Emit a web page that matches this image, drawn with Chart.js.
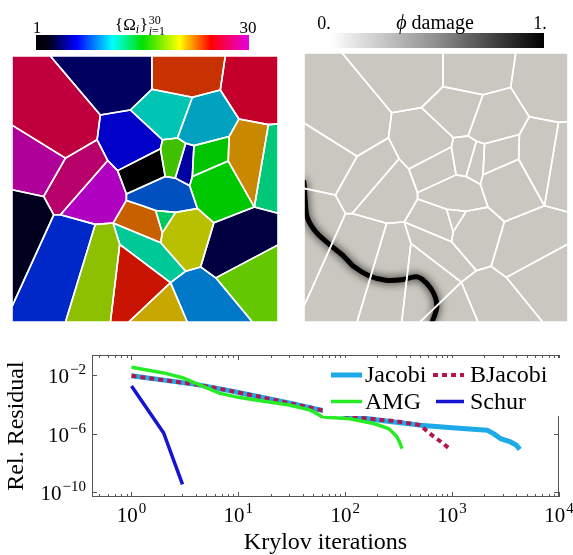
<!DOCTYPE html>
<html>
<head>
<meta charset="utf-8">
<script src="https://cdn.jsdelivr.net/npm/chart.js@4.4.1/dist/chart.umd.min.js"></script>
<style>
  html, body { margin: 0; padding: 0; background: #fff; }
  body { width: 573px; height: 555px; position: relative; overflow: hidden; }
  canvas { position: absolute; }
  #left { left: 0; top: 0; }
  #right { left: 290px; top: 0; }
  #plot { left: 0; top: 340px; }
</style>
</head>
<body>
<canvas id="left" width="290" height="330"></canvas>
<canvas id="right" width="283" height="330"></canvas>
<canvas id="plot" width="573" height="215"></canvas>
<script>
// Convergence curves (Krylov iteration, relative residual)
const jacobiIter = [1, 2, 4, 8, 16, 32, 64, 100, 138, 250, 500, 1000, 2130, 2440, 2830, 3520, 4000, 4300];
const jacobiRes = [8.9e-3, 4.5e-3, 2.3e-3, 9e-4, 3.2e-4, 1.1e-4, 3.6e-5, 2e-5, 1.2e-5, 7e-6, 3.8e-6, 2.5e-6, 1.7e-6, 1e-6, 4.6e-7, 2.7e-7, 1.6e-7, 8.5e-8];
const bjacobiIter = [1, 2, 4, 8, 16, 32, 64, 100, 138, 300, 500, 620, 800, 960];
const bjacobiRes = [8.9e-3, 4.5e-3, 2.3e-3, 9e-4, 3.2e-4, 1.1e-4, 3.6e-5, 2e-5, 1.2e-5, 7e-6, 3.8e-6, 1e-6, 2.5e-7, 8.5e-8];
const amgIter = [1, 2, 3, 4, 6.75, 10, 15, 30, 47, 55, 60, 67, 110, 184, 255, 300, 320, 340];
const amgRes = [3.4e-2, 1.4e-2, 6.6e-3, 2.7e-3, 5.6e-4, 3e-4, 1.9e-4, 9e-5, 4e-5, 2.2e-5, 1.5e-5, 1.3e-5, 1.05e-5, 4.9e-6, 2.2e-6, 7e-7, 3e-7, 9.5e-8];
const schurIter = [1, 2, 3];
const schurRes = [1.8e-3, 1.1e-6, 3.4e-10];

const seriesNames = ["Jacobi", "BJacobi", "AMG", "Schur"];
const xTickValues = [1, 10, 100, 1000, 10000];
const xTickExponents = ["0", "1", "2", "3", "4"];
const yTickValues = [1e-2, 1e-6, 1e-10];
const yTickExponents = ["−2", "−6", "−10"];

// Voronoi subdomains (panel coordinates 0..100, y downwards)
const cellColors = [
  "#c0003e", "#000060", "#c83200", "#c4002a", "#00c4b4", "#00a2c0",
  "#0000c8", "#40c000", "#0000a0", "#00c400", "#c88800", "#00c878",
  "#b0009a", "#b8006a", "#00001e", "#b000c0", "#000000", "#0050c0",
  "#0028c8", "#8cc000", "#00c896", "#c81400", "#c8a800", "#0078c8",
  "#64c800", "#000040", "#b8c000", "#00c860", "#c86000", "#00c800"
];
const cellCorners = [
  [[0,0],[14.4,0],[33.2,22.2],[32,31.5],[20.1,38.4],[0,26]],
  [[14.4,0],[52.6,0],[52.6,12.5],[44.5,20.3],[33.2,22.2]],
  [[52.6,0],[80.2,0],[78.3,12.8],[67.8,15.5],[52.6,12.5]],
  [[80.2,0],[100,0],[100,25.5],[96.4,25.8],[85.3,23.7],[78.3,12.8]],
  [[44.5,20.3],[52.6,12.5],[67.8,15.5],[62.2,30.8],[56.6,31.5]],
  [[67.8,15.5],[78.3,12.8],[85.3,23.7],[81.6,30.3],[68.4,33.7],[65.3,32.8],[62.2,30.8]],
  [[33.2,22.2],[44.5,20.3],[56.6,31.5],[55.8,34.9],[39.7,43.1],[36,39.3],[32,31.5]],
  [[56.6,31.5],[62.2,30.8],[65.3,32.8],[61.4,45.9],[57.6,45.3],[55.8,34.9]],
  [[65.3,32.8],[68.4,33.7],[67.8,45.3],[66.8,48.8],[61.4,45.9]],
  [[68.4,33.7],[81.6,30.3],[81.3,39.5],[67.8,45.3]],
  [[85.3,23.7],[96.4,25.8],[91.1,56.8],[81.3,39.5],[81.6,30.3]],
  [[96.4,25.8],[100,25.5],[100,59.1],[91.1,56.8]],
  [[0,26],[20.1,38.4],[11.9,52.8],[0,50.3]],
  [[20.1,38.4],[32,31.5],[36,39.3],[18.2,59.7],[15.7,59.7],[11.9,52.8]],
  [[0,50.3],[11.9,52.8],[15.7,59.7],[0,94.1]],
  [[36,39.3],[39.7,43.1],[43,51.9],[43,54.3],[38,62.8],[31.3,63.3],[18.2,59.7]],
  [[39.7,43.1],[55.8,34.9],[57.6,45.3],[43,51.9]],
  [[43,51.9],[57.6,45.3],[61.4,45.9],[66.8,48.8],[69.7,57.3],[61.5,58.8],[54,58.1],[49,56.3],[43,54.3]],
  [[15.7,59.7],[18.2,59.7],[31.3,63.3],[20.1,100],[0,100],[0,94.1]],
  [[31.3,63.3],[38,62.8],[40.5,70.8],[37,100],[20.1,100]],
  [[38,62.8],[55.9,70.2],[65.3,80.9],[59.6,85.2],[40.5,70.8]],
  [[40.5,70.8],[59.6,85.2],[43.9,100],[37,100]],
  [[59.6,85.2],[65.9,100],[43.9,100]],
  [[59.6,85.2],[65.3,80.9],[70.9,79.3],[76.6,83.4],[90.4,100],[65.9,100]],
  [[76.6,83.4],[100,71],[100,100],[90.4,100]],
  [[70.9,79.3],[75.9,62.7],[91.1,56.8],[100,59.1],[100,71],[76.6,83.4]],
  [[61.5,58.8],[69.7,57.3],[75.9,62.7],[70.9,79.3],[65.3,80.9],[55.9,70.2],[56.5,66.5]],
  [[54,58.1],[61.5,58.8],[56.5,66.5]],
  [[43,54.3],[49,56.3],[54,58.1],[56.5,66.5],[55.9,70.2],[38,62.8]],
  [[67.8,45.3],[81.3,39.5],[91.1,56.8],[75.9,62.7],[69.7,57.3],[66.8,48.8]]
];
const crackPath = [[0,48],[0.5,55],[1.2,61],[4.5,66.5],[10,71.5],[15,75.5],[19,79.5],[25,83],[31,84.5],[37,84.3],[42.5,83.2],[45,84.3],[48,87.5],[49.8,91],[50.3,94.5],[49.5,97.5],[48.5,100]];
const damageGrey = "#c9c7bf";
const rainbowStops = [[0,"#000000"],[0.06,"#000018"],[0.19,"#0000ff"],[0.36,"#00ffff"],[0.5,"#00e000"],[0.675,"#ffff00"],[0.82,"#ff0000"],[1,"#e600e6"]];

const SERIF = '"Liberation Serif", "DejaVu Serif", serif';
const toPoints = (xs, ys) => xs.map((x, i) => ({ x, y: ys[i] }));
const toXY = (pts) => pts.map(([x, y]) => ({ x, y }));

// Un panneau Voronoi : un dataset "shape" par sous-domaine
function drawPanel(canvas, fills, padding, extraDatasets, plugins) {
  const datasets = cellCorners.map((pts, i) => ({
    data: toXY(pts.concat([pts[0]])),
    backgroundColor: fills[i],
    borderColor: "#ffffff",
    borderWidth: 1.6,
    borderJoinStyle: "round",
    fill: "shape",
    pointRadius: 0,
    tension: 0,
    clip: 0,
    order: 0,
  }));
  return new Chart(canvas, {
    type: "line",
    data: { datasets: datasets.concat(extraDatasets) },
    options: {
      responsive: false,
      animation: false,
      events: [],
      layout: { padding },
      scales: {
        x: { type: "linear", min: 0, max: 100, display: false },
        y: { type: "linear", min: 0, max: 100, reverse: true, display: false },
      },
      plugins: {
        legend: { display: false },
        tooltip: { enabled: false },
        filler: { drawTime: "beforeDatasetsDraw" },
      },
    },
    plugins,
  });
}

// Left panel: colour bar {Omega_i}
const leftBar = {
  id: "leftBar",
  afterDraw(chart) {
    const ctx = chart.ctx;
    ctx.save();
    const g = ctx.createLinearGradient(36, 0, 249, 0);
    rainbowStops.forEach(([p, c]) => g.addColorStop(p, c));
    ctx.fillStyle = g;
    ctx.fillRect(36, 35, 213, 15);
    ctx.fillStyle = "#000";
    ctx.textAlign = "center";
    ctx.textBaseline = "alphabetic";
    ctx.font = "17px " + SERIF;
    ctx.fillText("1", 37, 33);
    ctx.fillText("30", 248, 33);
    ctx.textAlign = "left";
    let x = 115;
    ctx.font = "17px " + SERIF;
    ctx.fillText("{Ω", x, 30);
    x += ctx.measureText("{Ω").width;
    ctx.font = "italic 12px " + SERIF;
    ctx.fillText("i", x, 33);
    x += ctx.measureText("i").width + 0.5;
    ctx.font = "17px " + SERIF;
    ctx.fillText("}", x, 30);
    x += ctx.measureText("}").width + 1;
    ctx.font = "12px " + SERIF;
    ctx.fillText("30", x, 23.5);
    ctx.font = "italic 12px " + SERIF;
    ctx.fillText("i", x, 34.5);
    const xi = x + ctx.measureText("i").width;
    ctx.font = "12px " + SERIF;
    ctx.fillText("=1", xi, 34.5);
    ctx.restore();
  },
};

// Right panel: grey bar "phi damage"
const rightBar = {
  id: "rightBar",
  afterDraw(chart) {
    const ctx = chart.ctx;
    ctx.save();
    const g = ctx.createLinearGradient(40, 0, 254, 0);
    g.addColorStop(0, "#ffffff");
    g.addColorStop(0.5, "#8e8e8e");
    g.addColorStop(1, "#000000");
    ctx.fillStyle = g;
    ctx.fillRect(40, 33, 214, 15);
    ctx.fillStyle = "#000";
    ctx.textBaseline = "alphabetic";
    ctx.textAlign = "center";
    ctx.font = "18px " + SERIF;
    ctx.fillText("0.", 34, 28.5);
    ctx.fillText("1.", 250, 28.5);
    ctx.textAlign = "left";
    ctx.font = "italic 20px " + SERIF;
    const w1 = ctx.measureText("ϕ").width;
    ctx.font = "20px " + SERIF;
    const w2 = ctx.measureText(" damage").width;
    const x0 = 145 - (w1 + w2) / 2;
    ctx.font = "italic 20px " + SERIF;
    ctx.fillText("ϕ", x0, 28.5);
    ctx.font = "20px " + SERIF;
    ctx.fillText(" damage", x0 + w1, 28.5);
    ctx.restore();
  },
};

// Flou autour de la fissure
const crackGlow = {
  id: "crackGlow",
  beforeDatasetDraw(chart, args) {
    if (chart.data.datasets[args.index].label !== "crack") return;
    const ctx = chart.ctx;
    ctx.save();
    ctx.shadowColor = "rgba(0,0,0,0.9)";
    ctx.shadowBlur = 8;
  },
  afterDatasetDraw(chart, args) {
    if (chart.data.datasets[args.index].label !== "crack") return;
    chart.ctx.restore();
  },
};

drawPanel(document.getElementById("left"), cellColors,
  { left: 12, top: 56, right: 12, bottom: 8 }, [], [leftBar]);

drawPanel(document.getElementById("right"), cellCorners.map(() => damageGrey),
  { left: 14, top: 53, right: 5, bottom: 8 },
  [{
    label: "crack",
    data: toXY(crackPath),
    borderColor: "#000000",
    borderWidth: 5,
    borderCapStyle: "round",
    borderJoinStyle: "round",
    fill: false,
    pointRadius: 0,
    tension: 0.3,
    clip: 0,
    order: 1,
  }],
  [rightBar, crackGlow]);

// "10" suivi de l'exposant en petit
function drawPower(ctx, exp, x, baseline, align) {
  ctx.font = "21px " + SERIF;
  const wb = ctx.measureText("10").width;
  ctx.font = "15px " + SERIF;
  const we = ctx.measureText(exp).width;
  const total = wb + 1 + we;
  const x0 = align === "center" ? x - total / 2 : x - total;
  ctx.textAlign = "left";
  ctx.textBaseline = "alphabetic";
  ctx.font = "21px " + SERIF;
  ctx.fillText("10", x0, baseline);
  ctx.font = "15px " + SERIF;
  ctx.fillText(exp, x0 + wb + 1, baseline - 9);
}

// Cadre, graduations vers l'intérieur et étiquettes
const frame = {
  id: "frame",
  beforeDatasetsDraw(chart) {
    const { ctx, chartArea: a, scales: { x, y } } = chart;
    ctx.save();
    ctx.strokeStyle = "#555";
    ctx.lineWidth = 1;
    ctx.strokeRect(a.left + 0.5, a.top + 0.5, a.width - 1, a.height - 1);
    ctx.beginPath();
    for (let e = -1; e <= 4; e++) {
      for (let k = 1; k <= 9; k++) {
        const v = k * Math.pow(10, e);
        if (v < x.min || v > x.max) continue;
        const px = Math.round(x.getPixelForValue(v)) + 0.5;
        const len = k === 1 ? 5 : 3;
        ctx.moveTo(px, a.bottom); ctx.lineTo(px, a.bottom - len);
        ctx.moveTo(px, a.top); ctx.lineTo(px, a.top + len);
      }
    }
    yTickValues.forEach((v) => {
      const py = Math.round(y.getPixelForValue(v)) + 0.5;
      ctx.moveTo(a.left, py); ctx.lineTo(a.left + 5, py);
      ctx.moveTo(a.right, py); ctx.lineTo(a.right - 5, py);
    });
    ctx.stroke();
    ctx.fillStyle = "#000";
    xTickValues.forEach((v, i) => {
      drawPower(ctx, xTickExponents[i], x.getPixelForValue(v), a.bottom + 25, "center");
    });
    yTickValues.forEach((v, i) => {
      drawPower(ctx, yTickExponents[i], a.left - 6, y.getPixelForValue(v) + 8.3, "right");
    });
    ctx.restore();
  },
};

// Légende sur fond blanc, dessinée par-dessus les courbes
const legendSlots = [
  { x0: 331, x1: 362, tx: 365, y: 35 },
  { x0: 433, x1: 464, tx: 470, y: 35 },
  { x0: 331, x1: 362, tx: 365, y: 61.5 },
  { x0: 436, x1: 464, tx: 470, y: 61.5 },
];
const boxLegend = {
  id: "boxLegend",
  afterDatasetsDraw(chart) {
    const ctx = chart.ctx;
    ctx.save();
    ctx.fillStyle = "#fff";
    ctx.fillRect(323, 18, 245, 58);
    ctx.font = "24px " + SERIF;
    ctx.textBaseline = "middle";
    ctx.textAlign = "left";
    chart.data.datasets.forEach((ds, i) => {
      const s = legendSlots[i];
      ctx.strokeStyle = ds.borderColor;
      ctx.lineWidth = ds.borderWidth;
      ctx.setLineDash(ds.borderDash || []);
      ctx.beginPath();
      ctx.moveTo(s.x0, s.y);
      ctx.lineTo(s.x1, s.y);
      ctx.stroke();
      ctx.setLineDash([]);
      ctx.fillStyle = "#000";
      ctx.fillText(ds.label, s.tx, s.y + 1);
    });
    ctx.restore();
  },
};

new Chart(document.getElementById("plot"), {
  type: "line",
  data: {
    datasets: [
      { label: seriesNames[0], data: toPoints(jacobiIter, jacobiRes), borderColor: "#1eaae6", borderWidth: 5, order: 3 },
      { label: seriesNames[1], data: toPoints(bjacobiIter, bjacobiRes), borderColor: "#b4144f", borderWidth: 4, borderDash: [5, 4], order: 2 },
      { label: seriesNames[2], data: toPoints(amgIter, amgRes), borderColor: "#28eb28", borderWidth: 3.5, order: 1 },
      { label: seriesNames[3], data: toPoints(schurIter, schurRes), borderColor: "#1414d2", borderWidth: 3.5, order: 0 },
    ].map((d) => Object.assign({ pointRadius: 0, tension: 0, fill: false, borderJoinStyle: "round" }, d)),
  },
  options: {
    responsive: false,
    animation: false,
    events: [],
    layout: { padding: { top: 15, right: 14, left: 0, bottom: 0 } },
    scales: {
      x: {
        type: "logarithmic",
        min: 0.427,
        max: 10000,
        grid: { display: false, drawTicks: false },
        border: { display: false },
        afterBuildTicks: (s) => { s.ticks = xTickValues.map((v) => ({ value: v })); },
        afterFit: (s) => { s.height = 58; },
        ticks: { display: false },
        title: {
          display: true,
          text: "Krylov iterations",
          color: "#000",
          font: { family: SERIF, size: 24, lineHeight: 1 },
          padding: { top: 0, bottom: 0 },
        },
      },
      y: {
        type: "logarithmic",
        min: 4.7e-11,
        max: 0.234,
        grid: { display: false, drawTicks: false },
        border: { display: false },
        afterBuildTicks: (s) => { s.ticks = yTickValues.map((v) => ({ value: v })); },
        afterFit: (s) => { s.width = 92; },
        ticks: { display: false },
        title: {
          display: true,
          text: "Rel. Residual",
          color: "#000",
          font: { family: SERIF, size: 24, lineHeight: 1 },
          padding: { top: 5, bottom: 0 },
        },
      },
    },
    plugins: {
      legend: { display: false },
      tooltip: { enabled: false },
    },
  },
  plugins: [frame, boxLegend],
});
</script>
</body>
</html>
